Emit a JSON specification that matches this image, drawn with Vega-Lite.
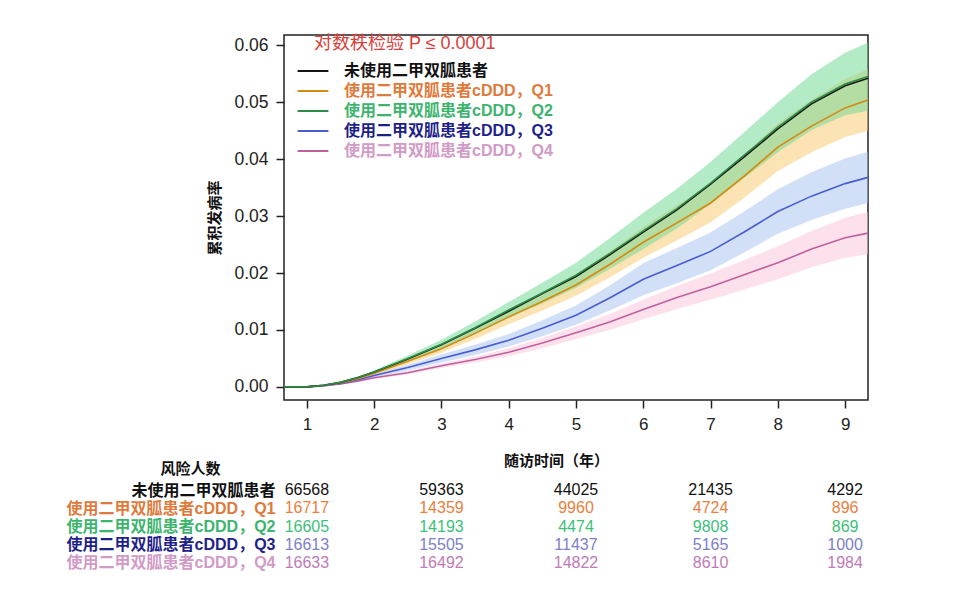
{
  "$schema": "https://vega.github.io/schema/vega-lite/v6.json",
  "background": "white",
  "autosize": {"type": "none"},
  "padding": {"left": 284, "top": 35, "right": 676, "bottom": 559},
  "config": {
    "font": "Liberation Sans, Noto Sans CJK SC, sans-serif",
    "view": {"stroke": "#222", "strokeWidth": 1.5},
    "axis": {"grid": false, "tickColor": "#222", "titleColor": "#111"}
  },
  "datasets": {
    "curves": [
      {"g":"Q4","t":0.66,"v":0,"lo":0,"hi":0},
      {"g":"Q4","t":1.0,"v":0,"lo":0,"hi":0},
      {"g":"Q4","t":1.25,"v":0.0002,"lo":0.00017,"hi":0.00023},
      {"g":"Q4","t":1.5,"v":0.0005,"lo":0.00044,"hi":0.00056},
      {"g":"Q4","t":1.75,"v":0.0010,"lo":0.0009,"hi":0.0011},
      {"g":"Q4","t":2.0,"v":0.0016,"lo":0.0014,"hi":0.0018},
      {"g":"Q4","t":2.5,"v":0.0025,"lo":0.0022,"hi":0.0028},
      {"g":"Q4","t":3.0,"v":0.0037,"lo":0.0033,"hi":0.0041},
      {"g":"Q4","t":3.5,"v":0.0048,"lo":0.0043,"hi":0.0053},
      {"g":"Q4","t":4.0,"v":0.0061,"lo":0.0054,"hi":0.0068},
      {"g":"Q4","t":4.5,"v":0.0077,"lo":0.0068,"hi":0.0086},
      {"g":"Q4","t":5.0,"v":0.0095,"lo":0.0084,"hi":0.0106},
      {"g":"Q4","t":5.5,"v":0.0114,"lo":0.0100,"hi":0.0128},
      {"g":"Q4","t":6.0,"v":0.0136,"lo":0.0119,"hi":0.0153},
      {"g":"Q4","t":6.5,"v":0.0157,"lo":0.0137,"hi":0.0177},
      {"g":"Q4","t":7.0,"v":0.0176,"lo":0.0153,"hi":0.0199},
      {"g":"Q4","t":7.5,"v":0.0197,"lo":0.0171,"hi":0.0223},
      {"g":"Q4","t":8.0,"v":0.0218,"lo":0.0189,"hi":0.0247},
      {"g":"Q4","t":8.5,"v":0.0242,"lo":0.0210,"hi":0.0274},
      {"g":"Q4","t":9.0,"v":0.0262,"lo":0.0227,"hi":0.0297},
      {"g":"Q4","t":9.34,"v":0.0270,"lo":0.0233,"hi":0.0307},

      {"g":"Q3","t":0.66,"v":0,"lo":0,"hi":0},
      {"g":"Q3","t":1.0,"v":0,"lo":0,"hi":0},
      {"g":"Q3","t":1.25,"v":0.0002,"lo":0.00015,"hi":0.00025},
      {"g":"Q3","t":1.5,"v":0.0006,"lo":0.0005,"hi":0.0007},
      {"g":"Q3","t":1.75,"v":0.0012,"lo":0.0010,"hi":0.0014},
      {"g":"Q3","t":2.0,"v":0.0020,"lo":0.0017,"hi":0.0023},
      {"g":"Q3","t":2.5,"v":0.0034,"lo":0.0029,"hi":0.0039},
      {"g":"Q3","t":3.0,"v":0.0050,"lo":0.0043,"hi":0.0057},
      {"g":"Q3","t":3.5,"v":0.0065,"lo":0.0056,"hi":0.0074},
      {"g":"Q3","t":4.0,"v":0.0082,"lo":0.0071,"hi":0.0093},
      {"g":"Q3","t":4.5,"v":0.0103,"lo":0.0089,"hi":0.0117},
      {"g":"Q3","t":5.0,"v":0.0126,"lo":0.0109,"hi":0.0143},
      {"g":"Q3","t":5.5,"v":0.0156,"lo":0.0134,"hi":0.0178},
      {"g":"Q3","t":6.0,"v":0.0189,"lo":0.0161,"hi":0.0217},
      {"g":"Q3","t":6.5,"v":0.0213,"lo":0.0182,"hi":0.0244},
      {"g":"Q3","t":7.0,"v":0.0238,"lo":0.0205,"hi":0.0271},
      {"g":"Q3","t":7.5,"v":0.0272,"lo":0.0236,"hi":0.0308},
      {"g":"Q3","t":8.0,"v":0.0308,"lo":0.0269,"hi":0.0347},
      {"g":"Q3","t":8.5,"v":0.0335,"lo":0.0293,"hi":0.0377},
      {"g":"Q3","t":9.0,"v":0.0357,"lo":0.0313,"hi":0.0401},
      {"g":"Q3","t":9.34,"v":0.0368,"lo":0.0323,"hi":0.0413},

      {"g":"Q1","t":0.66,"v":0,"lo":0,"hi":0},
      {"g":"Q1","t":1.0,"v":0,"lo":0,"hi":0},
      {"g":"Q1","t":1.25,"v":0.0003,"lo":0.00025,"hi":0.00035},
      {"g":"Q1","t":1.5,"v":0.0007,"lo":0.0006,"hi":0.0008},
      {"g":"Q1","t":1.75,"v":0.0014,"lo":0.0012,"hi":0.0016},
      {"g":"Q1","t":2.0,"v":0.0024,"lo":0.0021,"hi":0.0027},
      {"g":"Q1","t":2.5,"v":0.0045,"lo":0.0040,"hi":0.0050},
      {"g":"Q1","t":3.0,"v":0.0067,"lo":0.0060,"hi":0.0074},
      {"g":"Q1","t":3.5,"v":0.0094,"lo":0.0084,"hi":0.0104},
      {"g":"Q1","t":4.0,"v":0.0123,"lo":0.0110,"hi":0.0136},
      {"g":"Q1","t":4.5,"v":0.0150,"lo":0.0134,"hi":0.0166},
      {"g":"Q1","t":5.0,"v":0.0179,"lo":0.0160,"hi":0.0198},
      {"g":"Q1","t":5.5,"v":0.0215,"lo":0.0192,"hi":0.0238},
      {"g":"Q1","t":6.0,"v":0.0254,"lo":0.0227,"hi":0.0281},
      {"g":"Q1","t":6.5,"v":0.0288,"lo":0.0257,"hi":0.0319},
      {"g":"Q1","t":7.0,"v":0.0323,"lo":0.0289,"hi":0.0357},
      {"g":"Q1","t":7.5,"v":0.0370,"lo":0.0332,"hi":0.0408},
      {"g":"Q1","t":8.0,"v":0.0421,"lo":0.0379,"hi":0.0463},
      {"g":"Q1","t":8.5,"v":0.0458,"lo":0.0412,"hi":0.0504},
      {"g":"Q1","t":9.0,"v":0.0490,"lo":0.0439,"hi":0.0541},
      {"g":"Q1","t":9.34,"v":0.0504,"lo":0.0450,"hi":0.0558},

      {"g":"N","t":0.66,"v":0,"lo":0,"hi":0},
      {"g":"N","t":1.0,"v":0,"lo":0,"hi":0},
      {"g":"N","t":1.25,"v":0.0003,"lo":0.0003,"hi":0.0003},
      {"g":"N","t":1.5,"v":0.0008,"lo":0.0008,"hi":0.0008},
      {"g":"N","t":1.75,"v":0.0016,"lo":0.0016,"hi":0.0016},
      {"g":"N","t":2.0,"v":0.0026,"lo":0.0026,"hi":0.0026},
      {"g":"N","t":2.5,"v":0.0049,"lo":0.0049,"hi":0.0049},
      {"g":"N","t":3.0,"v":0.0074,"lo":0.0074,"hi":0.0074},
      {"g":"N","t":3.5,"v":0.0103,"lo":0.0103,"hi":0.0103},
      {"g":"N","t":4.0,"v":0.0133,"lo":0.0133,"hi":0.0133},
      {"g":"N","t":4.5,"v":0.0164,"lo":0.0164,"hi":0.0164},
      {"g":"N","t":5.0,"v":0.0194,"lo":0.0194,"hi":0.0194},
      {"g":"N","t":5.5,"v":0.0232,"lo":0.0232,"hi":0.0232},
      {"g":"N","t":6.0,"v":0.0272,"lo":0.0272,"hi":0.0272},
      {"g":"N","t":6.5,"v":0.0311,"lo":0.0311,"hi":0.0311},
      {"g":"N","t":7.0,"v":0.0356,"lo":0.0356,"hi":0.0356},
      {"g":"N","t":7.5,"v":0.0404,"lo":0.0404,"hi":0.0404},
      {"g":"N","t":8.0,"v":0.0453,"lo":0.0453,"hi":0.0453},
      {"g":"N","t":8.5,"v":0.0497,"lo":0.0497,"hi":0.0497},
      {"g":"N","t":9.0,"v":0.0529,"lo":0.0529,"hi":0.0529},
      {"g":"N","t":9.34,"v":0.0542,"lo":0.0542,"hi":0.0542},

      {"g":"Q2","t":0.66,"v":0,"lo":0,"hi":0},
      {"g":"Q2","t":1.0,"v":0,"lo":0,"hi":0},
      {"g":"Q2","t":1.25,"v":0.0003,"lo":0.00025,"hi":0.00035},
      {"g":"Q2","t":1.5,"v":0.0008,"lo":0.0007,"hi":0.0009},
      {"g":"Q2","t":1.75,"v":0.0016,"lo":0.0014,"hi":0.0018},
      {"g":"Q2","t":2.0,"v":0.0026,"lo":0.0023,"hi":0.0029},
      {"g":"Q2","t":2.5,"v":0.0050,"lo":0.0045,"hi":0.0055},
      {"g":"Q2","t":3.0,"v":0.0075,"lo":0.0067,"hi":0.0083},
      {"g":"Q2","t":3.5,"v":0.0104,"lo":0.0093,"hi":0.0115},
      {"g":"Q2","t":4.0,"v":0.0135,"lo":0.0121,"hi":0.0149},
      {"g":"Q2","t":4.5,"v":0.0165,"lo":0.0147,"hi":0.0183},
      {"g":"Q2","t":5.0,"v":0.0196,"lo":0.0174,"hi":0.0218},
      {"g":"Q2","t":5.5,"v":0.0234,"lo":0.0207,"hi":0.0261},
      {"g":"Q2","t":6.0,"v":0.0274,"lo":0.0242,"hi":0.0306},
      {"g":"Q2","t":6.5,"v":0.0313,"lo":0.0278,"hi":0.0348},
      {"g":"Q2","t":7.0,"v":0.0358,"lo":0.0321,"hi":0.0395},
      {"g":"Q2","t":7.5,"v":0.0407,"lo":0.0367,"hi":0.0447},
      {"g":"Q2","t":8.0,"v":0.0456,"lo":0.0412,"hi":0.0500},
      {"g":"Q2","t":8.5,"v":0.0500,"lo":0.0451,"hi":0.0549},
      {"g":"Q2","t":9.0,"v":0.0532,"lo":0.0477,"hi":0.0587},
      {"g":"Q2","t":9.34,"v":0.0545,"lo":0.0485,"hi":0.0605}
    ],
    "risk": [
      {"g":"N","t":1,"n":"66568"},{"g":"N","t":3,"n":"59363"},{"g":"N","t":5,"n":"44025"},{"g":"N","t":7,"n":"21435"},{"g":"N","t":9,"n":"4292"},
      {"g":"Q1","t":1,"n":"16717"},{"g":"Q1","t":3,"n":"14359"},{"g":"Q1","t":5,"n":"9960"},{"g":"Q1","t":7,"n":"4724"},{"g":"Q1","t":9,"n":"896"},
      {"g":"Q2","t":1,"n":"16605"},{"g":"Q2","t":3,"n":"14193"},{"g":"Q2","t":5,"n":"4474"},{"g":"Q2","t":7,"n":"9808"},{"g":"Q2","t":9,"n":"869"},
      {"g":"Q3","t":1,"n":"16613"},{"g":"Q3","t":3,"n":"15505"},{"g":"Q3","t":5,"n":"11437"},{"g":"Q3","t":7,"n":"5165"},{"g":"Q3","t":9,"n":"1000"},
      {"g":"Q4","t":1,"n":"16633"},{"g":"Q4","t":3,"n":"16492"},{"g":"Q4","t":5,"n":"14822"},{"g":"Q4","t":7,"n":"8610"},{"g":"Q4","t":9,"n":"1984"}
    ]
  },
  "vconcat": [
    {
      "width": 584,
      "height": 365,
      "data": {"name": "curves"},
      "layer": [
        {
          "transform": [{"filter": "datum.g !== 'N'"}],
          "mark": {"type": "area", "opacity": 0.5},
          "encoding": {
            "x": {"field": "t", "type": "quantitative", "scale": {"domain": [0.66, 9.34], "nice": false, "zero": false}},
            "y": {"field": "lo", "type": "quantitative"},
            "y2": {"field": "hi"},
            "fill": {"field": "g", "type": "nominal", "sort": null, "legend": null,
              "scale": {"domain": ["Q4", "Q3", "Q1", "Q2"], "range": ["#f9c4db", "#a3c2f0", "#f9c869", "#6ad890"]}}
          }
        },
        {
          "mark": {"type": "line", "strokeWidth": 1.6},
          "encoding": {
            "x": {"field": "t", "type": "quantitative",
              "scale": {"domain": [0.66, 9.34], "nice": false, "zero": false},
              "axis": {"values": [1,2,3,4,5,6,7,8,9], "format": "d", "domain": false, "tickSize": 8, "tickWidth": 1.5,
                "labelFontSize": 17, "labelPadding": 8, "labelColor": "#222", "title": "随访时间（年）", "titleFontSize": 15, "titleFontWeight": "bold",
                "titlePadding": 21, "titleX": 272}},
            "y": {"field": "v", "type": "quantitative",
              "scale": {"domain": [-0.0023, 0.0618], "nice": false, "zero": false},
              "axis": {"values": [0, 0.01, 0.02, 0.03, 0.04, 0.05, 0.06], "format": ".2f", "domain": false, "tickSize": 8, "tickWidth": 1.5,
                "labelFontSize": 17.5, "labelPadding": 8, "labelColor": "#222", "title": "累积发病率", "titleFontSize": 15, "titleFontWeight": "bold", "titlePadding": 11}},
            "color": {"field": "g", "type": "nominal", "sort": null,
              "scale": {"domain": ["N", "Q1", "Q2", "Q3", "Q4"], "range": ["#151515", "#d4890f", "#2e8a46", "#4a5cd2", "#bf609d"]},
              "legend": {
                "orient": "none", "legendX": 17, "legendY": 0, "padding": 0,
                "title": "\u2800对数秩检验 P ≤ 0.0001", "titleColor": "#d8403a", "titleFontSize": 18, "titleFontWeight": "normal", "titlePadding": 6, "titleLimit": 500,
                "symbolType": "M-1.4,0L1.4,0", "symbolSize": 484, "symbolStrokeWidth": 2,
                "labelFontSize": 16, "labelFontWeight": "bold", "labelOffset": 19, "rowPadding": 0, "labelLimit": 400,
                "labelExpr": "datum.value === 'N' ? '未使用二甲双胍患者' : '使用二甲双胍患者cDDD，' + datum.value",
                "encode": {"labels": {"update": {"fill": {"signal": "datum.value === 'N' ? '#111111' : datum.value === 'Q1' ? '#e07a3c' : datum.value === 'Q2' ? '#3cb46e' : datum.value === 'Q3' ? '#1f1f8a' : '#d29ac6'"}}}}
              }
            }
          }
        }
      ]
    },
    {
      "width": 584,
      "height": 91,
      "view": {"stroke": null},
      "data": {"name": "risk"},
      "mark": {"type": "text", "fontSize": 16, "align": "center", "baseline": "middle"},
      "encoding": {
        "x": {"field": "t", "type": "quantitative", "scale": {"domain": [0.66, 9.34], "nice": false, "zero": false}, "axis": null},
        "y": {"field": "g", "type": "ordinal", "sort": ["N", "Q1", "Q2", "Q3", "Q4"],
          "scale": {"domain": ["N", "Q1", "Q2", "Q3", "Q4"], "paddingInner": 0, "paddingOuter": 0},
          "axis": {"domain": false, "ticks": false, "labelPadding": 9, "labelFontSize": 16, "labelFontWeight": "bold", "labelLimit": 400,
            "labelExpr": "datum.value === 'N' ? '未使用二甲双胍患者' : '使用二甲双胍患者cDDD，' + datum.value",
            "labelColor": {"condition": [
              {"test": "datum.value === 'Q1'", "value": "#e07a3c"},
              {"test": "datum.value === 'Q2'", "value": "#3cb46e"},
              {"test": "datum.value === 'Q3'", "value": "#1f1f8a"},
              {"test": "datum.value === 'Q4'", "value": "#d29ac6"}
            ], "value": "#111111"},
            "title": "风险人数", "titleAngle": 0, "titleAlign": "center", "titleBaseline": "middle", "titleX": -94, "titleY": -13,
            "titleFontSize": 15, "titleFontWeight": "bold"}},
        "text": {"field": "n", "type": "nominal"},
        "color": {"field": "g", "type": "nominal", "legend": null,
          "scale": {"domain": ["N", "Q1", "Q2", "Q3", "Q4"], "range": ["#111111", "#e8803e", "#3cbf7a", "#7b80c8", "#c07ab8"]}}
      }
    }
  ],
  "bounds": "flush",
  "spacing": 81,
  "resolve": {"scale": {"color": "independent", "y": "independent", "x": "independent"}}
}
